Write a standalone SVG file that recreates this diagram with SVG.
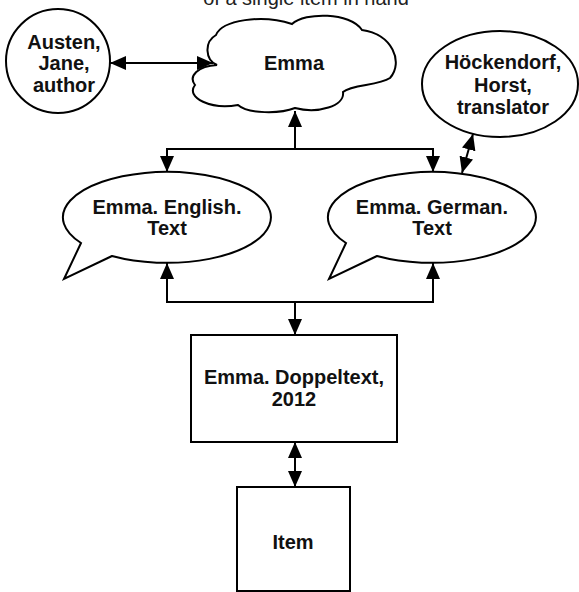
<svg xmlns="http://www.w3.org/2000/svg" width="579" height="592" viewBox="0 0 579 592">
<defs>
<marker id="ah" viewBox="0 0 16 14" refX="16" refY="7" markerWidth="16" markerHeight="14" markerUnits="userSpaceOnUse" orient="auto-start-reverse">
<path d="M0,0 L16,7 L0,14 Z" fill="#000"/>
</marker>
<style>
.shape{fill:#fff;stroke:#000;stroke-width:2}
.lbl{font-family:"Liberation Sans",Arial,sans-serif;font-weight:bold;font-size:20px;text-anchor:middle;fill:#111}
.title{font-family:"Liberation Sans",Arial,sans-serif;font-size:20px;text-anchor:middle;fill:#222}
.conn{fill:none;stroke:#000;stroke-width:2}
</style>
</defs>
<rect width="579" height="592" fill="#fff"/>
<text class="title" x="306" y="5">of a single item in hand</text>

<g id="connectors">
<line class="conn" x1="110" y1="63" x2="213" y2="63" marker-start="url(#ah)" marker-end="url(#ah)"/>
<polyline class="conn" points="295,149 295,111" marker-end="url(#ah)"/>
<polyline class="conn" points="167,172 167,149 433,149 433,172" marker-start="url(#ah)" marker-end="url(#ah)"/>
<line class="conn" x1="473" y1="134" x2="462" y2="173" marker-start="url(#ah)" marker-end="url(#ah)"/>
<polyline class="conn" points="167,263 167,302 433,302 433,263" marker-start="url(#ah)" marker-end="url(#ah)"/>
<polyline class="conn" points="295,302 295,335" marker-end="url(#ah)"/>
<line class="conn" x1="295" y1="442" x2="295" y2="487" marker-start="url(#ah)" marker-end="url(#ah)"/>
</g>

<g id="austen">
<circle class="shape" cx="58" cy="61" r="52"/>
<text class="lbl" x="64" y="49">Austen,</text>
<text class="lbl" x="64" y="70">Jane,</text>
<text class="lbl" x="64" y="92">author</text>
</g>

<g id="emma">
<path class="shape" d="M217,65 C205,60 204,42 216,35 C222,20 262,14 292,24 C305,12 350,12 362,30 C392,34 404,62 390,78 C378,86 352,84 343,92 C345,106 318,114 295,108 C280,114 248,114 238,105 C212,110 185,98 195,85 C188,76 198,66 217,65 Z"/>
<text class="lbl" x="294" y="70">Emma</text>
</g>

<g id="hockendorf">
<ellipse class="shape" cx="500" cy="84" rx="78" ry="53"/>
<text class="lbl" x="503" y="69">Höckendorf,</text>
<text class="lbl" x="503" y="92">Horst,</text>
<text class="lbl" x="503" y="114">translator</text>
</g>

<g id="english">
<path class="shape" d="M112,256 L64,279 L81,243 A104,45.5 0 1 1 112,256 Z"/>
<text class="lbl" x="167" y="214">Emma. English.</text>
<text class="lbl" x="167" y="235">Text</text>
</g>

<g id="german">
<path class="shape" d="M377,256 L329,279 L346,243 A104,45.5 0 1 1 377,256 Z"/>
<text class="lbl" x="432" y="214">Emma. German.</text>
<text class="lbl" x="432" y="235">Text</text>
</g>

<g id="doppeltext">
<rect class="shape" x="191" y="335" width="206" height="107"/>
<text class="lbl" x="294" y="384">Emma. Doppeltext,</text>
<text class="lbl" x="294" y="406">2012</text>
</g>

<g id="item">
<rect class="shape" x="237" y="487" width="113" height="104"/>
<text class="lbl" x="293" y="549">Item</text>
</g>
</svg>
